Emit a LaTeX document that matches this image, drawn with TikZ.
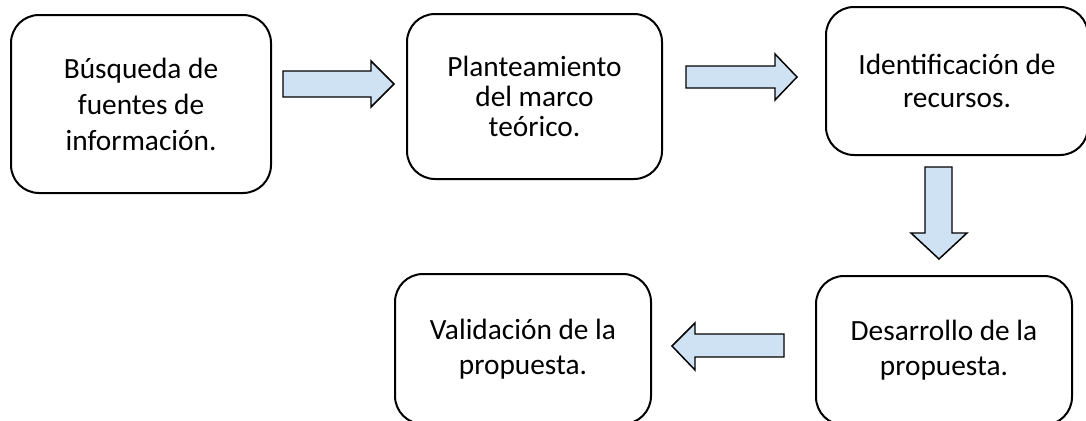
\documentclass[tikz,border=0pt]{standalone}
\usepackage{fontspec}
\setmainfont{Carlito}
\definecolor{arrowfill}{RGB}{207,226,243}
\begin{document}
\begin{tikzpicture}[x=0.75pt,y=-0.75pt,
  box/.style={draw, line width=1.5pt, rounded corners=21pt, align=center,
    inner sep=0pt, font=\fontsize{22}{26.5}\selectfont},
  blockarrow/.style={draw, fill=arrowfill, line width=1.1pt, line join=miter}]
\useasboundingbox (0,0) rectangle (1086,421);
\clip (0,0) rectangle (1086,421);
\node[box, minimum width=195pt, minimum height=133.5pt,
  font=\fontsize{22}{27}\selectfont] (b1) at (141,104)
  {Búsqueda de\\fuentes de\\información.};
\node[box, minimum width=191.25pt, minimum height=123.75pt,
  font=\fontsize{22}{22.5}\selectfont] (b2) at (534.5,96.5)
  {Planteamiento\\del marco\\teórico.};
\node[box, minimum width=196.5pt, minimum height=111pt,
  font=\fontsize{22}{25}\selectfont] (b3) at (957,81)
  {Identificación de\\recursos.};
\node[box, minimum width=192pt, minimum height=111.75pt] (b5) at (944,350.5)
  {Desarrollo de la\\propuesta.};
\node[box, minimum width=192pt, minimum height=112.5pt] (b4) at (523,349)
  {Validación de la\\propuesta.};
% block arrows
\draw[blockarrow] (283,71) -- (371,71) -- (371,61) -- (394,84) -- (371,107) -- (371,97) -- (283,97) -- cycle;
\draw[blockarrow] (686,66) -- (775,66) -- (775,54) -- (797,77) -- (775,100) -- (775,88) -- (686,88) -- cycle;
\draw[blockarrow] (925,167) -- (952,167) -- (952,233) -- (967,233) -- (939,259) -- (911,233) -- (925,233) -- cycle;
\draw[blockarrow] (784,334) -- (695,334) -- (695,323) -- (672,346) -- (695,370) -- (695,357) -- (784,357) -- cycle;
\end{tikzpicture}
\end{document}
